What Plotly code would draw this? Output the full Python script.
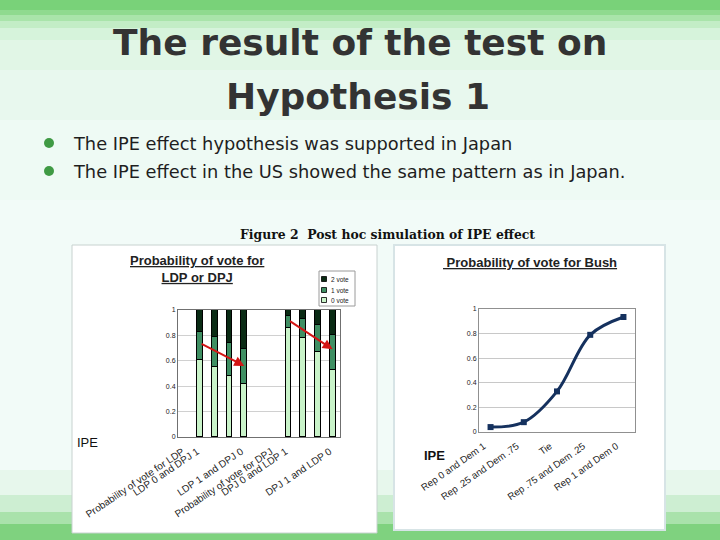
import plotly.graph_objects as go

W, H = 720, 540

# ---------------- data ----------------
slot_pos = [1, 2, 3, 4, 7, 8, 9, 10]
vote0 = [0.61, 0.55, 0.48, 0.42, 0.86, 0.78, 0.67, 0.53]
vote1 = [0.22, 0.24, 0.26, 0.27, 0.09, 0.15, 0.21, 0.27]
vote2 = [0.17, 0.21, 0.26, 0.31, 0.05, 0.07, 0.12, 0.20]
series_names = ["0 vote", "1 vote", "2 vote"]
series_colors = ["#c9f3c9", "#3f8f63", "#0a2b14"]

left_tick_pos = [0, 1, 4, 6, 7, 10]
left_tick_text = ["Probability of vote for LDP", "LDP 0 and DPJ 1", "LDP 1 and DPJ 0",
                  "Probability of vote for DPJ", "DPJ 0 and LDP 1", "DPJ 1 and LDP 0"]

# arrows (start slot, start value, end slot, end value)
arrows = [(1, 0.74, 4, 0.56), (7, 0.92, 10, 0.69)]

ipe_cats = ["Rep 0 and Dem 1", "Rep .25 and Dem .75", "Tie", "Rep .75 and Dem .25", "Rep 1 and Dem 0"]
bush = [0.04, 0.08, 0.33, 0.79, 0.935]

y_ticks = [0, 0.2, 0.4, 0.6, 0.8, 1]
y_tick_text = ["0", "0.2", "0.4", "0.6", "0.8", "1"]


def px(x):
    return x / W


def py(y):
    return 1 - y / H


fig = go.Figure()

for vals, name, col in zip([vote0, vote1, vote2], series_names, series_colors):
    fig.add_trace(go.Bar(x=slot_pos, y=vals, name=name, width=0.4,
                         marker=dict(color=col, line=dict(color="#000000", width=1)),
                         xaxis="x", yaxis="y", showlegend=False))

fig.add_trace(go.Scatter(x=ipe_cats, y=bush, mode="lines+markers",
                         line=dict(color="#15315e", width=3, shape="spline", smoothing=1.0),
                         marker=dict(symbol="square", size=6, color="#15315e"),
                         xaxis="x2", yaxis="y2", showlegend=False))

shapes = []
# background bands
bands = [
    (0, 10, "#79d279"), (10, 15, "#8fda8f"), (15, 21, "#a9e4aa"), (21, 28, "#c3edc6"),
    (28, 40, "#d6f3db"), (40, 70, "#e1f6e6"), (70, 120, "#e8f8ee"), (120, 200, "#eefaf4"),
    (200, 470, "#f2fbf8"), (470, 495, "#e7f7ec"), (495, 512, "#cdeed2"), (512, 524, "#a9e2ab"),
    (524, 540, "#7fd27f"),
]
for y0, y1, c in bands:
    shapes.append(dict(type="rect", xref="paper", yref="paper", x0=0, x1=1, y0=py(y1), y1=py(y0),
                       fillcolor=c, line=dict(width=0), layer="below"))
# panels
shapes.append(dict(type="rect", xref="paper", yref="paper", x0=px(72), x1=px(377), y0=py(533), y1=py(245),
                   fillcolor="#ffffff", line=dict(color="#c8d2d0", width=1), layer="below"))
shapes.append(dict(type="rect", xref="paper", yref="paper", x0=px(394), x1=px(665), y0=py(530), y1=py(245),
                   fillcolor="#ffffff", line=dict(color="#d7e4e6", width=2), layer="below"))
# bullets
for yb in [143, 171]:
    shapes.append(dict(type="circle", xref="paper", yref="paper", x0=px(44), x1=px(54),
                       y0=py(yb + 5), y1=py(yb - 5), fillcolor="#3f9a44", line=dict(width=0)))

# manual legend for the bar chart
shapes.append(dict(type="rect", xref="paper", yref="paper", x0=px(319), x1=px(355), y0=py(306), y1=py(271),
                   fillcolor="#ffffff", line=dict(color="#9a9a9a", width=1)))
legend_y = {"2 vote": 279, "1 vote": 290, "0 vote": 300}
annotations = []
for name, col in zip(series_names, series_colors):
    yy = legend_y[name]
    shapes.append(dict(type="rect", xref="paper", yref="paper", x0=px(321.5), x1=px(326.5),
                       y0=py(yy + 2.5), y1=py(yy - 2.5), fillcolor=col, line=dict(color="#000", width=0.8)))
    annotations.append(dict(text=name, xref="paper", yref="paper", x=px(328.5), y=py(yy), xanchor="left",
                            yanchor="middle", showarrow=False, font=dict(size=6.5, color="#222", family="Liberation Sans")))

# titles and texts
annotations += [
    dict(text="<b>The result of the test on</b>", x=px(360), y=py(43), xref="paper", yref="paper",
         xanchor="center", yanchor="middle", showarrow=False,
         font=dict(size=36, color="#333333", family="DejaVu Sans")),
    dict(text="<b>Hypothesis 1</b>", x=px(358), y=py(96), xref="paper", yref="paper",
         xanchor="center", yanchor="middle", showarrow=False,
         font=dict(size=36, color="#333333", family="DejaVu Sans")),
    dict(text="The IPE effect hypothesis was supported in Japan", x=px(71), y=py(143), xref="paper", yref="paper",
         xanchor="left", yanchor="middle", showarrow=False,
         font=dict(size=17.8, color="#1e1e1e", family="DejaVu Sans")),
    dict(text="The IPE effect in the US showed the same pattern as in Japan.", x=px(71), y=py(171),
         xref="paper", yref="paper", xanchor="left", yanchor="middle", showarrow=False,
         font=dict(size=17.8, color="#1e1e1e", family="DejaVu Sans")),
    dict(text="<b>Figure 2  Post hoc simulation of IPE effect</b>", x=px(387), y=py(234), xref="paper",
         yref="paper", xanchor="center", yanchor="middle", showarrow=False,
         font=dict(size=12.4, color="#111", family="DejaVu Serif")),
    dict(text="<b><u>Probability of vote for</u></b><br><b><u>LDP or DPJ</u></b>", x=px(197), y=py(269),
         xref="paper", yref="paper", xanchor="center", yanchor="middle", showarrow=False,
         font=dict(size=13, color="#222", family="Liberation Sans")),
    dict(text="<b><u> Probability of vote for Bush</u></b>", x=px(530), y=py(262),
         xref="paper", yref="paper", xanchor="center", yanchor="middle", showarrow=False,
         font=dict(size=13, color="#222", family="Liberation Sans")),
    dict(text="IPE", x=px(75), y=py(442), xref="paper", yref="paper", xanchor="left", yanchor="middle",
         showarrow=False, font=dict(size=13, color="#111", family="Liberation Sans")),
    dict(text="<b>IPE</b>", x=px(422), y=py(455), xref="paper", yref="paper", xanchor="left", yanchor="middle",
         showarrow=False, font=dict(size=13, color="#111", family="Liberation Sans")),
]
for x0, y0, x1, y1 in arrows:
    annotations.append(dict(x=x1, y=y1, ax=x0, ay=y0, xref="x", yref="y", axref="x", ayref="y",
                            showarrow=True, arrowhead=2, arrowsize=1, arrowwidth=2, arrowcolor="#d31515",
                            text=""))

axis_font = dict(size=7, color="#222", family="Liberation Sans")
fig.update_layout(
    template="none",
    width=W, height=H, margin=dict(l=0, r=0, t=0, b=0, pad=0), autosize=False,
    paper_bgcolor="#f2fbf8", plot_bgcolor="#ffffff",
    barmode="stack", bargap=0,
    shapes=shapes, annotations=annotations,
    xaxis=dict(domain=[px(178), px(340)], range=[-0.5, 10.5], anchor="y", automargin=False,
               tickmode="array", tickvals=left_tick_pos, ticktext=left_tick_text, tickangle=-34,
               tickfont=dict(size=10, color="#222", family="Liberation Sans"),
               showline=True, mirror=True, linecolor="#707070", linewidth=1, showgrid=False,
               ticks="outside", ticklen=4, tickcolor="rgba(0,0,0,0)", ticklabelshift=-3, zeroline=False),
    yaxis=dict(domain=[py(437), py(310)], range=[0, 1], anchor="x", automargin=False,
               tickmode="array", tickvals=y_ticks, ticktext=y_tick_text, tickfont=axis_font,
               showline=True, mirror=True, linecolor="#707070", linewidth=1,
               showgrid=True, gridcolor="#d0d0d0", zeroline=False, ticks=""),
    xaxis2=dict(domain=[px(479), px(635)], anchor="y2", type="category", automargin=False,
                tickangle=-35, tickfont=dict(size=9.7, color="#222", family="Liberation Sans"),
                showline=True, mirror=True, linecolor="#909090", linewidth=1, showgrid=False,
                ticks="outside", ticklen=4, tickcolor="rgba(0,0,0,0)", ticklabelshift=-7),
    yaxis2=dict(domain=[py(432), py(309)], range=[0, 1], anchor="x2", automargin=False,
                tickmode="array", tickvals=y_ticks, ticktext=y_tick_text, tickfont=axis_font,
                showline=True, mirror=True, linecolor="#909090", linewidth=1,
                showgrid=True, gridcolor="#c8c8c8", zeroline=False, ticks=""),
)

fig.write_html("out.html", config={"displayModeBar": False},
               post_script="document.body.style.margin='0';")
